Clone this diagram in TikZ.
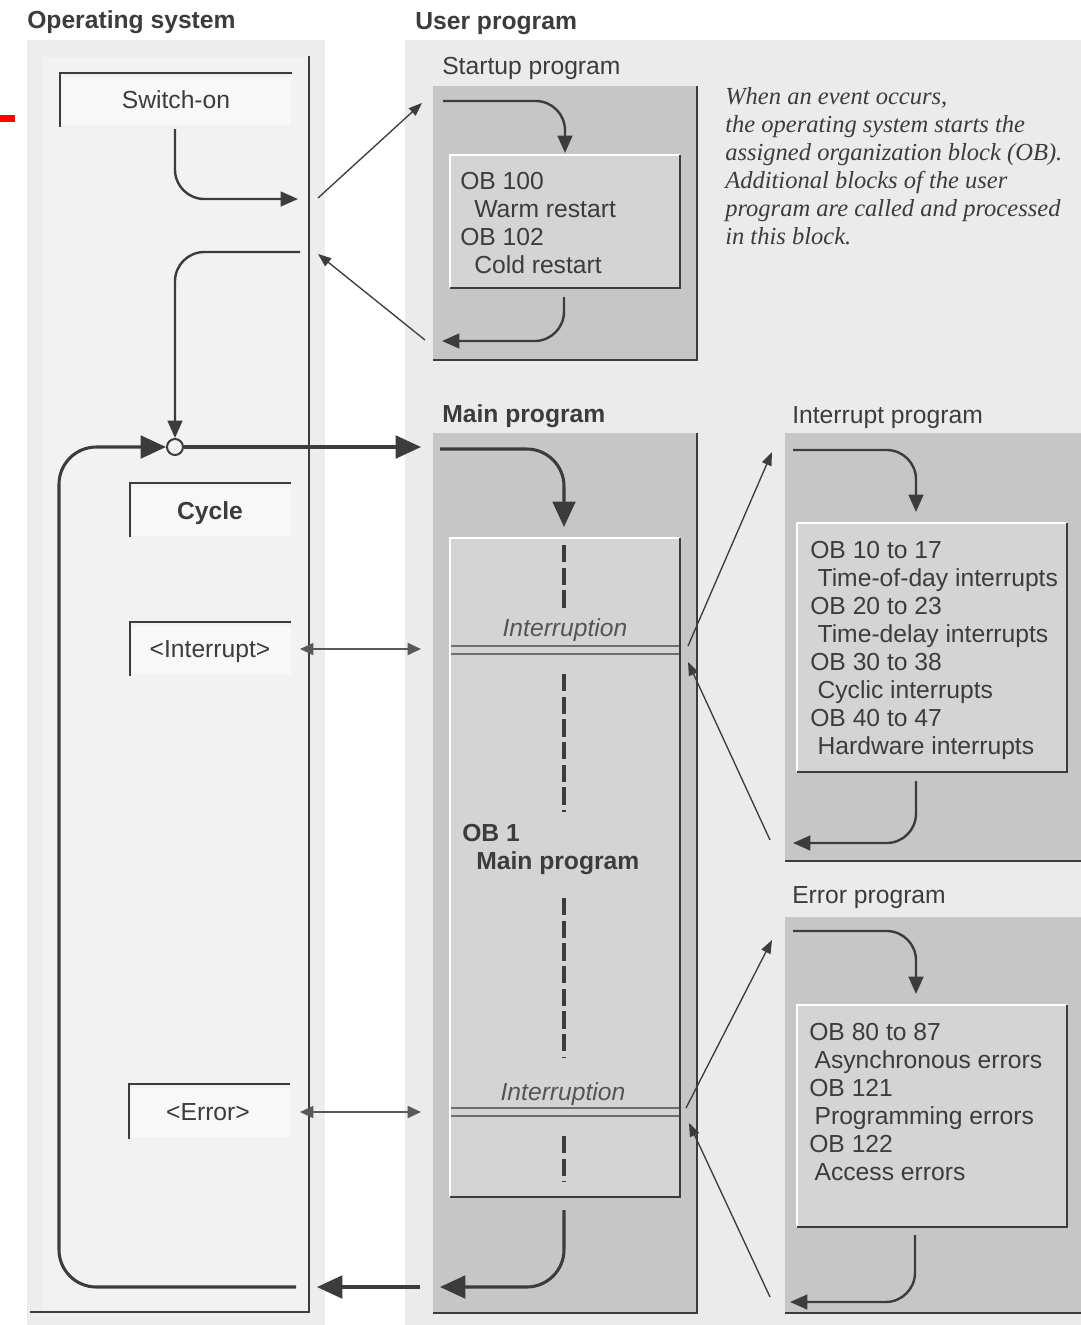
\documentclass[tikz,border=0pt]{standalone}
\usepackage{fontspec}
\setmainfont{Liberation Sans}
\newfontfamily\notefont{Liberation Serif}
\usetikzlibrary{arrows.meta}
\definecolor{ink}{HTML}{3C3C3C}
\definecolor{osbg}{HTML}{EDEDED}
\definecolor{osin}{HTML}{F2F2F2}
\definecolor{userbg}{HTML}{EBEBEB}
\definecolor{outerfill}{HTML}{C6C6C6}
\definecolor{innerfill}{HTML}{D4D4D4}
\definecolor{labelfill}{HTML}{F8F8F8}
\definecolor{softtxt}{HTML}{555555}
\begin{document}
\begin{tikzpicture}[x=0.75pt,y=-0.75pt,
  txt/.style={inner sep=0pt, text=ink, font=\fontsize{18.5}{21}\selectfont},
  boldtxt/.style={inner sep=0pt, text=ink, font=\fontsize{18.5}{21}\selectfont\bfseries},
  ittxt/.style={inner sep=0pt, text=softtxt, font=\fontsize{18.5}{21}\selectfont\itshape},
  notetxt/.style={inner sep=0pt, text=ink, align=left, font=\fontsize{18.4}{21}\selectfont\notefont\itshape},
  flow/.style={draw=ink, line width=1.8pt, rounded corners=22pt, -{Triangle[length=13pt,width=11pt]}},
  bigflow/.style={draw=ink, line width=2.3pt, rounded corners=28pt, -{Triangle[length=19pt,width=17pt]}},
  link/.style={draw=ink, line width=1pt, -{Triangle[length=10pt,width=7.5pt]}},
  dlink/.style={draw=ink!85, line width=1.3pt, {Triangle[length=10pt,width=9pt]}-{Triangle[length=10pt,width=9pt]}},
  edge/.style={draw=ink, line width=1.3pt},
  hilite/.style={draw=white, line width=1.3pt},
  lbledge/.style={draw=ink, line width=1.5pt},
  dashline/.style={draw=ink, line width=2.4pt, dash pattern=on 13pt off 4pt},
  dbl/.style={draw=ink!75, line width=0.8pt}
]
\useasboundingbox (0,0) rectangle (1081,1325);
% backgrounds
\fill[white] (0,0) rectangle (1081,1325);
\fill[osbg] (27,40) rectangle (325,1325);
\fill[osin] (43,57) rectangle (309,1312);
\fill[userbg] (405,40) rectangle (1081,1325);
\fill[red] (0,115) rectangle (15,122);

% titles
\node[boldtxt, anchor=base west] (ostitle) at (27,28) {Operating system};
\node[boldtxt, anchor=base west] (uptitle) at (415,29) {User program};

% OS column frame
\draw[edge] (309,56) -- (309,1312) -- (30,1312);

% OS label boxes
\fill[labelfill] (62,77) rectangle (291,125);
\draw[lbledge] (60,127) -- (60,73) -- (292,73);
\node[txt, anchor=base] (swon) at (176,108.5) {Switch-on};
\fill[labelfill] (132,487) rectangle (291,536);
\draw[lbledge] (130,537) -- (130,483) -- (291,483);
\node[boldtxt, anchor=base] (cycle) at (210,519.5) {Cycle};
\fill[labelfill] (132,626) rectangle (291,674);
\draw[lbledge] (130,676) -- (130,622) -- (291,622);
\node[txt, anchor=base] (intr) at (210,657.5) {<Interrupt>};
\fill[labelfill] (131,1088) rectangle (290,1137);
\draw[lbledge] (129,1139) -- (129,1084) -- (290,1084);
\node[txt, anchor=base] (err) at (208,1120.5) {<Error>};

% Startup program
\node[txt, anchor=base west] (sutitle) at (442,74.5) {Startup program};
\fill[outerfill] (433,86) rectangle (697,360);
\draw[edge] (697,86) -- (697,360) -- (433,360);
\fill[innerfill] (450,155) rectangle (680,288);
\draw[hilite] (450,288) -- (450,155) -- (680,155);
\draw[edge] (680,155) -- (680,288) -- (450,288);
\node[txt, anchor=north west, align=left] (sutext) at (460,172.5)
  {OB 100\\\hspace*{10.5pt}Warm restart\\OB 102\\\hspace*{10.5pt}Cold restart};

% note
\node[notetxt, anchor=north west] (note) at (725,87)
  {When an event occurs,\\the operating system starts the\\assigned organization block (OB).\\Additional blocks of the user\\program are called and processed\\in this block.};

% Main program
\node[boldtxt, anchor=base west] (mptitle) at (442,422.5) {Main program};
\fill[outerfill] (433,433) rectangle (697,1313);
\draw[edge] (697,433) -- (697,1313) -- (433,1313);
\fill[innerfill] (450,538) rectangle (680,1197);
\draw[hilite] (450,1197) -- (450,538) -- (680,538);
\draw[edge] (680,538) -- (680,1197) -- (450,1197);
\draw[dbl] (451,646) -- (679,646);
\draw[dbl] (451,654) -- (679,654);
\draw[dbl] (451,1108) -- (679,1108);
\draw[dbl] (451,1116) -- (679,1116);
\node[ittxt, anchor=base] (intr1) at (565,636.5) {Interruption};
\node[ittxt, anchor=base] (intr2) at (563,1100.5) {Interruption};
\node[boldtxt, anchor=north west, align=left] (ob1) at (462,824)
  {OB 1\\\hspace*{10.5pt}Main program};
\draw[dashline] (564,545) -- (564,612);
\draw[dashline] (564,674) -- (564,812);
\draw[dashline] (564,898) -- (564,1058);
\draw[dashline] (564,1136) -- (564,1182);

% Interrupt program
\node[txt, anchor=base west] (iptitle) at (792,423.5) {Interrupt program};
\fill[outerfill] (785,433) rectangle (1081,861);
\draw[edge] (785,861) -- (1081,861);
\fill[innerfill] (797,523) rectangle (1067,772);
\draw[hilite] (797,772) -- (797,523) -- (1067,523);
\draw[edge] (1067,523) -- (1067,772) -- (797,772);
\node[txt, anchor=north west, align=left] (iptext) at (810,540.5)
  {OB 10 to 17\\\hspace*{5.5pt}Time-of-day interrupts\\OB 20 to 23\\\hspace*{5.5pt}Time-delay interrupts\\OB 30 to 38\\\hspace*{5.5pt}Cyclic interrupts\\OB 40 to 47\\\hspace*{5.5pt}Hardware interrupts};

% Error program
\node[txt, anchor=base west] (eptitle) at (792,903.5) {Error program};
\fill[outerfill] (785,917) rectangle (1081,1313);
\draw[edge] (785,1313) -- (1081,1313);
\fill[innerfill] (797,1005) rectangle (1067,1227);
\draw[hilite] (797,1227) -- (797,1005) -- (1067,1005);
\draw[edge] (1067,1005) -- (1067,1227) -- (797,1227);
\node[txt, anchor=north west, align=left] (eptext) at (809,1022.5)
  {OB 80 to 87\\\hspace*{4pt}Asynchronous errors\\OB 121\\\hspace*{4pt}Programming errors\\OB 122\\\hspace*{4pt}Access errors};

% junction circle
\node[circle, draw=ink, line width=1.5pt, fill=osin, minimum size=12pt, inner sep=0pt] (join) at (175,447) {};

% coordinates for connector ends
\coordinate (swout) at (175,129);
\coordinate (osA) at (298,199);
\coordinate (osAo) at (318,198);
\coordinate (suin) at (422,103);
\coordinate (suout) at (425,340);
\coordinate (osB) at (318,254);
\coordinate (osBo) at (300,252);
\coordinate (mpin) at (421,447);
\coordinate (loopstart) at (296,1287);
\coordinate (mpexit) at (564,1210);
\coordinate (mpend) at (440,1287);
\coordinate (osret) at (420,1287);
\coordinate (osretend) at (317,1287);
\coordinate (irqL) at (300,649);
\coordinate (irqR) at (421,649);
\coordinate (errL) at (300,1112);
\coordinate (errR) at (421,1112);

% OS flows
\draw[flow] (swout) -- (175,199) -- (osA);
\draw[link] (osAo) -- (suin);
\draw[link] (suout) -- (osB);
\draw[flow] (osBo) -- (175,252) -- (join.north);
\draw[bigflow] (join.east) -- (mpin);
\draw[bigflow] (loopstart) -- (59,1287) -- (59,447) -- (join.west);
\draw[dlink] (irqL) -- (irqR);
\draw[dlink] (errL) -- (errR);
\draw[bigflow, rounded corners=0pt] (osret) -- (osretend);

% startup internal flow
\draw[flow] (443,101) -- (565,101) -- (565,153);
\draw[flow] (564,297) -- (564,341) -- (442,341);

% main internal flow
\draw[bigflow] (440,449) -- (564,449) -- (564,527);
\draw[bigflow] (mpexit) -- (564,1287) -- (mpend);

% interrupt internal flow
\draw[flow] (793,450) -- (916,450) -- (916,512);
\draw[flow] (916,781) -- (916,843) -- (793,843);
% error internal flow
\draw[flow] (793,931) -- (916,931) -- (916,994);
\draw[flow] (915,1235) -- (915,1302) -- (790,1302);

% links main <-> interrupt / error
\coordinate (m1) at (688,646);
\coordinate (i1) at (772,452);
\coordinate (i2) at (770,840);
\coordinate (m2) at (688,662);
\coordinate (m3) at (686,1108);
\coordinate (e1) at (772,940);
\coordinate (e2) at (770,1297);
\coordinate (m4) at (689,1123);
\draw[link] (m1) -- (i1);
\draw[link] (i2) -- (m2);
\draw[link] (m3) -- (e1);
\draw[link] (e2) -- (m4);
\end{tikzpicture}
\end{document}
